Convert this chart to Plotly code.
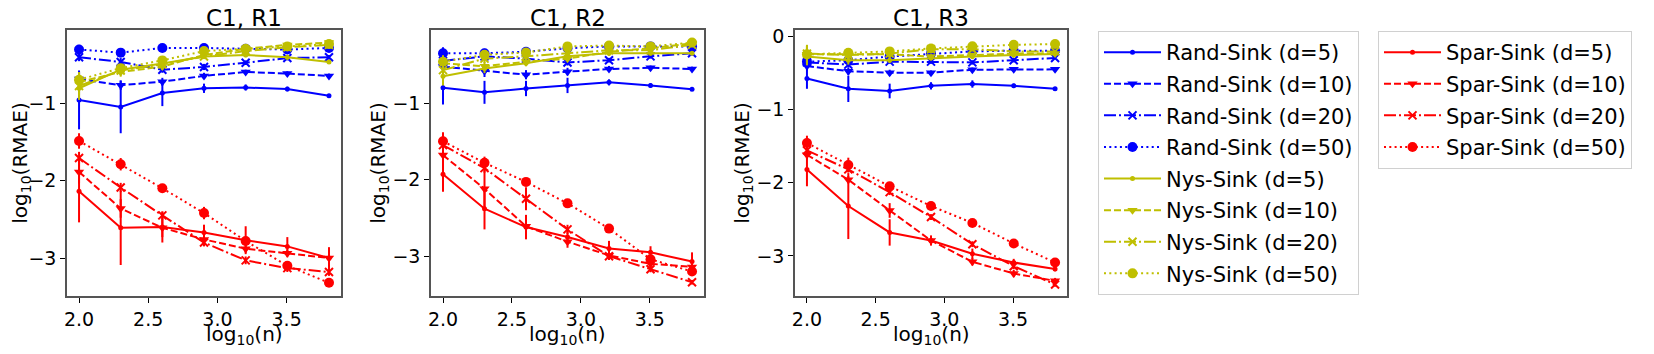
import numpy as np
import plotly.graph_objects as go
from plotly.subplots import make_subplots

# sample sizes n; plotted on log10 scale
n_values = [100, 200, 400, 800, 1600, 3200, 6400]
x = np.log10(n_values)

titles = ["C1, R1", "C1, R2", "C1, R3"]
dims = [5, 10, 20, 50]

# log10(RMAE) means, one list per method / d, per panel
r1_rand = [
    [-0.96, -1.05, -0.87, -0.81, -0.80, -0.82, -0.905],
    [-0.69, -0.77, -0.725, -0.65, -0.60, -0.62, -0.65],
    [-0.41, -0.47, -0.57, -0.535, -0.48, -0.42, -0.41],
    [-0.31, -0.35, -0.29, -0.29, -0.30, -0.31, -0.29],
]
r1_nys = [
    [-0.81, -0.57, -0.49, -0.40, -0.38, -0.41, -0.47],
    [-0.73, -0.60, -0.53, -0.38, -0.30, -0.25, -0.22],
    [-0.78, -0.58, -0.50, -0.40, -0.33, -0.28, -0.25],
    [-0.70, -0.55, -0.45, -0.33, -0.30, -0.27, -0.24],
]
r1_spar = [
    [-2.14, -2.61, -2.60, -2.67, -2.77, -2.85, -3.00],
    [-1.89, -2.36, -2.61, -2.76, -2.88, -2.94, -3.00],
    [-1.71, -2.09, -2.45, -2.80, -3.03, -3.13, -3.18],
    [-1.49, -1.79, -2.10, -2.42, -2.78, -3.10, -3.32],
]

r2_rand = [
    [-0.80, -0.86, -0.81, -0.77, -0.73, -0.77, -0.82],
    [-0.525, -0.58, -0.63, -0.59, -0.555, -0.54, -0.555],
    [-0.45, -0.39, -0.42, -0.47, -0.44, -0.39, -0.35],
    [-0.35, -0.35, -0.33, -0.285, -0.26, -0.26, -0.26],
]
r2_nys = [
    [-0.65, -0.55, -0.48, -0.39, -0.35, -0.35, -0.35],
    [-0.48, -0.52, -0.46, -0.42, -0.33, -0.285, -0.22],
    [-0.57, -0.42, -0.39, -0.35, -0.31, -0.31, -0.24],
    [-0.46, -0.37, -0.34, -0.26, -0.25, -0.26, -0.21],
]
r2_spar = [
    [-1.93, -2.38, -2.62, -2.75, -2.90, -2.95, -3.07],
    [-1.68, -2.12, -2.61, -2.81, -2.99, -3.10, -3.14],
    [-1.55, -1.85, -2.25, -2.65, -3.00, -3.17, -3.34],
    [-1.50, -1.78, -2.03, -2.31, -2.64, -3.04, -3.20],
]

r3_rand = [
    [-0.58, -0.72, -0.75, -0.68, -0.655, -0.68, -0.72],
    [-0.41, -0.48, -0.50, -0.50, -0.46, -0.455, -0.455],
    [-0.36, -0.39, -0.35, -0.35, -0.36, -0.33, -0.30],
    [-0.35, -0.33, -0.28, -0.24, -0.21, -0.20, -0.20],
]
r3_nys = [
    [-0.28, -0.33, -0.33, -0.30, -0.28, -0.26, -0.245],
    [-0.25, -0.25, -0.25, -0.28, -0.26, -0.24, -0.24],
    [-0.24, -0.26, -0.24, -0.18, -0.18, -0.21, -0.21],
    [-0.25, -0.23, -0.21, -0.17, -0.14, -0.12, -0.11],
]
r3_spar = [
    [-1.82, -2.32, -2.68, -2.79, -2.97, -3.09, -3.18],
    [-1.62, -1.96, -2.38, -2.79, -3.08, -3.24, -3.34],
    [-1.56, -1.82, -2.13, -2.47, -2.84, -3.14, -3.39],
    [-1.46, -1.76, -2.05, -2.32, -2.55, -2.83, -3.09],
]

# error bar half-widths (std)
r1_rand_err = [
    [0.38, 0.34, 0.17, 0.06, 0.04, 0.03, 0.02],
    [0.10, 0.06, 0.05, 0.04, 0.03, 0.03, 0.03],
    [0.05, 0.05, 0.04, 0.04, 0.03, 0.03, 0.03],
    [0.06, 0.05, 0.03, 0.03, 0.03, 0.03, 0.03],
]
r1_nys_err = [
    [0.15, 0.06, 0.04, 0.03, 0.03, 0.03, 0.02],
    [0.12, 0.06, 0.04, 0.03, 0.03, 0.03, 0.02],
    [0.12, 0.06, 0.04, 0.03, 0.03, 0.03, 0.02],
    [0.10, 0.05, 0.04, 0.03, 0.03, 0.03, 0.02],
]
r1_spar_err = [
    [0.40, 0.48, 0.20, 0.10, 0.18, 0.12, 0.14],
    [0.15, 0.12, 0.12, 0.06, 0.05, 0.05, 0.05],
    [0.08, 0.06, 0.05, 0.05, 0.05, 0.05, 0.05],
    [0.10, 0.08, 0.03, 0.08, 0.03, 0.04, 0.02],
]
r2_rand_err = [
    [0.22, 0.15, 0.10, 0.10, 0.04, 0.03, 0.02],
    [0.10, 0.08, 0.06, 0.05, 0.04, 0.03, 0.03],
    [0.06, 0.05, 0.04, 0.04, 0.03, 0.03, 0.03],
    [0.08, 0.06, 0.06, 0.04, 0.03, 0.03, 0.03],
]
r2_nys_err = [
    [0.12, 0.06, 0.04, 0.03, 0.03, 0.03, 0.02],
    [0.10, 0.06, 0.04, 0.03, 0.03, 0.03, 0.02],
    [0.10, 0.06, 0.04, 0.03, 0.03, 0.03, 0.02],
    [0.08, 0.05, 0.04, 0.03, 0.03, 0.03, 0.02],
]
r2_spar_err = [
    [0.23, 0.27, 0.16, 0.08, 0.10, 0.08, 0.12],
    [0.12, 0.25, 0.05, 0.08, 0.05, 0.05, 0.05],
    [0.08, 0.06, 0.15, 0.06, 0.05, 0.04, 0.03],
    [0.12, 0.08, 0.03, 0.03, 0.03, 0.05, 0.03],
]
r3_rand_err = [
    [0.14, 0.18, 0.10, 0.05, 0.05, 0.03, 0.02],
    [0.06, 0.05, 0.04, 0.03, 0.03, 0.03, 0.02],
    [0.05, 0.04, 0.03, 0.03, 0.03, 0.03, 0.02],
    [0.06, 0.05, 0.03, 0.03, 0.03, 0.02, 0.02],
]
r3_nys_err = [
    [0.12, 0.06, 0.04, 0.03, 0.03, 0.03, 0.02],
    [0.12, 0.06, 0.04, 0.03, 0.03, 0.03, 0.02],
    [0.12, 0.06, 0.04, 0.03, 0.03, 0.03, 0.02],
    [0.12, 0.06, 0.04, 0.03, 0.03, 0.03, 0.02],
]
r3_spar_err = [
    [0.23, 0.45, 0.18, 0.07, 0.07, 0.05, 0.03],
    [0.06, 0.05, 0.10, 0.05, 0.05, 0.05, 0.04],
    [0.04, 0.04, 0.04, 0.04, 0.04, 0.04, 0.03],
    [0.10, 0.10, 0.04, 0.02, 0.02, 0.02, 0.02],
]

panels = [
    [(r1_rand, r1_rand_err), (r1_nys, r1_nys_err), (r1_spar, r1_spar_err)],
    [(r2_rand, r2_rand_err), (r2_nys, r2_nys_err), (r2_spar, r2_spar_err)],
    [(r3_rand, r3_rand_err), (r3_nys, r3_nys_err), (r3_spar, r3_spar_err)],
]
methods = ["Rand-Sink", "Nys-Sink", "Spar-Sink"]
colors = ["#0000ff", "#bfbf00", "#ff0000"]
legends = ["legend", "legend", "legend2"]

# matplotlib-like line styles / markers for d = 5, 10, 20, 50
dashes = ["solid", "7px,3px", "12px,3px,2px,3px", "2px,3.3px"]
symbols = ["circle", "triangle-down", "x-thin", "circle"]
msizes = [5, 9, 8, 10]

# the page body has an 8px margin, so the figure is drawn 8px in from the corner
OFF = 8
W, H = 1654 - 2 * OFF, 354 - 2 * OFF
ytop, ybot = 30, 296  # panel box top / bottom on screen
B = H - (ybot - OFF)  # bottom margin holds the tick labels and x titles
PH = H - B


def px_x(p):
    return (p - OFF) / W


def px_y(p):
    return 1 - (p - OFF) / PH


fig = make_subplots(rows=1, cols=3)

for p, panel in enumerate(panels):
    for m, (means, errs) in enumerate(panel):
        for k, d in enumerate(dims):
            fig.add_trace(
                go.Scatter(
                    x=x,
                    y=means[k],
                    mode="lines+markers",
                    name=f"{methods[m]} (d={d})",
                    legend=legends[m],
                    legendgroup=f"{methods[m]}{d}",
                    showlegend=(p == 0),
                    line=dict(color=colors[m], width=2, dash=dashes[k]),
                    marker=dict(
                        symbol=symbols[k],
                        size=msizes[k],
                        color=colors[m],
                        line=dict(color=colors[m], width=2 if k == 2 else 0),
                    ),
                    error_y=dict(
                        type="data",
                        array=errs[k],
                        width=0,
                        thickness=2,
                        color=colors[m],
                    ),
                ),
                row=1,
                col=p + 1,
            )

# panel x extents (screen pixels)
xpix = [(67, 341), (431, 704), (795, 1067)]
yranges = [[-3.49, -0.058], [-3.52, -0.046], [-3.547, 0.082]]

tick_font = dict(family="DejaVu Sans", size=19, color="black")
label_font = dict(family="DejaVu Sans", size=20, color="black")
for i in range(3):
    fig.update_xaxes(
        domain=[px_x(xpix[i][0]), px_x(xpix[i][1])],
        range=[1.913, 3.893],
        tickvals=[2.0, 2.5, 3.0, 3.5],
        ticktext=["2.0", "2.5", "3.0", "3.5"],
        ticks="outside",
        ticklen=5,
        tickcolor="black",
        showline=True,
        mirror=True,
        linecolor="#555555",
        linewidth=1.5,
        showgrid=False,
        zeroline=False,
        automargin=True,
        tickfont=tick_font,
        row=1,
        col=i + 1,
    )
    fig.update_yaxes(
        domain=[px_y(ybot), px_y(ytop)],
        range=yranges[i],
        tickvals=[0, -1, -2, -3],
        ticks="outside",
        ticklen=5,
        tickcolor="black",
        showline=True,
        mirror=True,
        linecolor="#555555",
        linewidth=1.5,
        showgrid=False,
        zeroline=False,
        automargin=True,
        tickfont=tick_font,
        title=dict(text="log<sub>10</sub>(RMAE)", font=label_font, standoff=1),
        row=1,
        col=i + 1,
    )
    xmid = px_x((xpix[i][0] + xpix[i][1]) / 2)
    # panel title
    fig.add_annotation(
        text=titles[i],
        x=xmid,
        y=px_y(18),
        xref="paper",
        yref="paper",
        yanchor="middle",
        showarrow=False,
        font=dict(family="DejaVu Sans", size=23, color="black"),
    )
    # x axis label, placed under the tick labels
    fig.add_annotation(
        text="log<sub>10</sub>(n)",
        x=xmid,
        y=px_y(335),
        xref="paper",
        yref="paper",
        yanchor="middle",
        showarrow=False,
        font=label_font,
    )

legend_style = dict(
    font=dict(family="DejaVu Sans", size=21, color="black"),
    bgcolor="white",
    bordercolor="#d0d0d0",
    borderwidth=1,
    xanchor="left",
    yanchor="top",
    tracegroupgap=1.3,
    itemwidth=57,
)

fig.update_layout(
    width=W,
    height=H,
    margin=dict(l=0, r=0, t=0, b=B, autoexpand=False),
    paper_bgcolor="white",
    plot_bgcolor="white",
    font=dict(family="DejaVu Sans", size=19, color="black"),
    legend=dict(x=px_x(1098), y=px_y(31), **legend_style),
    legend2=dict(x=px_x(1378), y=px_y(31), **legend_style),
)

fig.write_html("out.html")
